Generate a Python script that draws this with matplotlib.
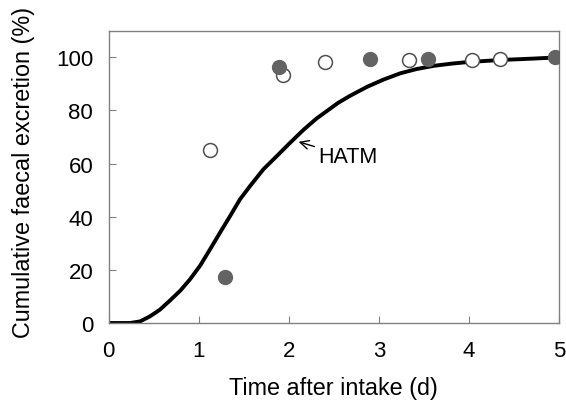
import matplotlib.pyplot as plt

plt.rcParams['font.family'] = ['Liberation Sans', 'DejaVu Sans']

# model curve (HATM)
t_model = [0, 0.24, 0.35, 0.46, 0.57, 0.683, 0.8, 0.906, 1.017, 1.128, 1.239, 1.35,
           1.46, 1.572, 1.72, 1.87, 2.017, 2.17, 2.31, 2.42, 2.55, 2.68, 2.87,
           3.05, 3.24, 3.42, 3.61, 3.8, 3.98, 4.35, 4.7, 5.0]
y_model = [0, 0, 0.6, 2.5, 5.0, 8.5, 12.3, 16.5, 21.6, 27.8, 34.1, 40.3,
           46.6, 51.6, 57.9, 62.9, 67.9, 72.9, 77.0, 79.7, 82.9, 85.5, 88.9,
           91.6, 94.0, 95.6, 96.8, 97.6, 98.2, 99.0, 99.5, 100]

# observed, filled markers
t_filled = [1.29, 1.89, 2.9, 3.55, 4.95]
y_filled = [17.5, 96.2, 99.5, 99.5, 100]

# observed, open markers
t_open = [1.13, 1.94, 2.4, 3.33, 4.03, 4.35]
y_open = [65.2, 93.2, 98.2, 99.0, 99.0, 99.4]

fig = plt.figure(figsize=(5.66, 4.02), dpi=100)
ax = fig.add_axes([0.1917, 0.194, 0.796, 0.727])

ax.plot(t_model, y_model, color='black', lw=2.8, solid_capstyle='round', zorder=2)
ax.plot(t_open, y_open, 'o', ms=10, mfc='white', mec='#4f4f4f', mew=1.1, zorder=3)
ax.plot(t_filled, y_filled, 'o', ms=10, mfc='#636363', mec='#636363', zorder=4)

ax.annotate('HATM', xy=(2.11, 68.2), xytext=(2.33, 62.6), fontsize=15.5,
            va='center', ha='left',
            arrowprops=dict(arrowstyle='->', color='black', lw=1,
                            shrinkA=1, shrinkB=0))

ax.set_xlim(0, 5)
ax.set_ylim(0, 110)
ax.set_xticks([0, 1, 2, 3, 4, 5])
ax.set_yticks([0, 20, 40, 60, 80, 100])
ax.tick_params(direction='in', length=5, color='#808080', labelsize=16)
ax.tick_params(axis='x', pad=12)
ax.tick_params(axis='y', pad=11)

for s in ax.spines.values():
    s.set_color('#808080')
    s.set_linewidth(1)

ax.set_xlabel('Time after intake (d)', fontsize=16.8, labelpad=11)
ax.set_ylabel('Cumulative faecal excretion (%)', fontsize=16.8, labelpad=15)
ax.yaxis.label.set_y(0.52)

fig.savefig('out.png', dpi=100)
